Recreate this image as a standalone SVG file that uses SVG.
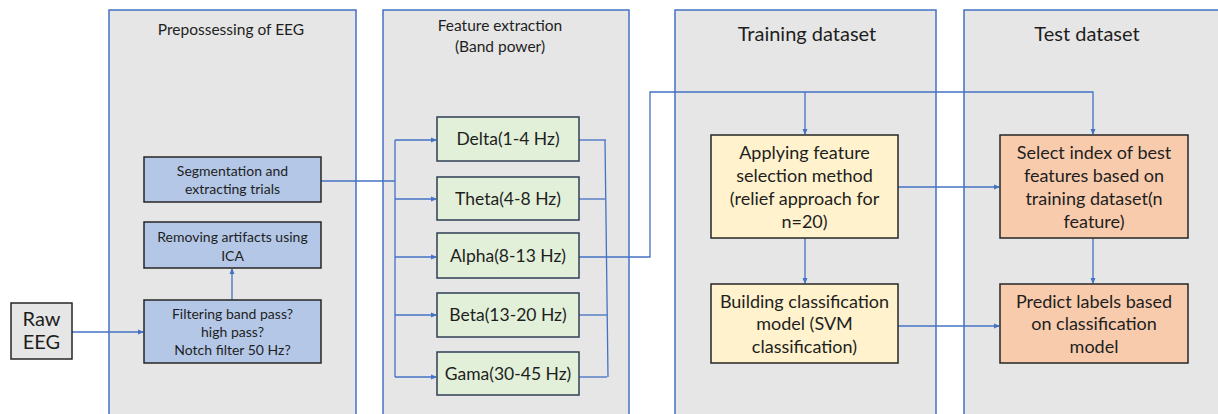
<svg xmlns="http://www.w3.org/2000/svg" width="1218" height="414" viewBox="0 0 1218 414">
<style>
.panel{fill:#e6e6e6;stroke:#4472c4;stroke-width:1.5}
.blue{fill:#b4c7e7;stroke:#262626;stroke-width:1.5}
.green{fill:#e2f0d9;stroke:#2f3f55;stroke-width:1.5}
.yellow{fill:#fff2cc;stroke:#262626;stroke-width:1.5}
.orange{fill:#f8cbad;stroke:#262626;stroke-width:1.5}
.gray{fill:#e6e6e6;stroke:#262626;stroke-width:1.5}
text{font-family:Lato,"Open Sans",sans-serif;fill:#1e1e1e;text-anchor:middle}
.t13{font-size:14px}
.t14{font-size:15.5px}
.tf{font-size:15.5px}
.t15{font-size:17.5px}
.t16{font-size:18px}
.t18{font-size:20px}
.c{fill:none;stroke:#4472c4;stroke-width:1.3}
</style>
<defs>
<marker id="ah" markerWidth="6" markerHeight="6" refX="5" refY="3" orient="auto" markerUnits="userSpaceOnUse">
<path d="M0,0.5 L6,3 L0,5.5 z" fill="#4472c4"/>
</marker>
</defs>
<rect width="1218" height="414" fill="#ffffff"/>
<g id="panel-preprocessing">
<rect class="panel" x="109" y="10" width="247" height="420"/>
<text class="t14" x="231" y="35">Prepossessing of EEG</text>
</g>
<g id="panel-feature">
<rect class="panel" x="383" y="10" width="246" height="420"/>
<text class="tf" x="500" y="31">Feature extraction</text>
<text class="tf" x="500" y="52">(Band power)</text>
</g>
<g id="panel-training">
<rect class="panel" x="675" y="10" width="261" height="420"/>
<text class="t18" x="807" y="41">Training dataset</text>
</g>
<g id="panel-test">
<rect class="panel" x="964" y="10" width="270" height="420"/>
<text class="t18" x="1087" y="41">Test dataset</text>
</g>
<g id="connectors">
<path class="c" d="M72,332 H143" marker-end="url(#ah)"/>
<path class="c" d="M232,300 V269" marker-end="url(#ah)"/>
<path class="c" d="M321,181 H395"/>
<path class="c" d="M395,140 V377"/>
<path class="c" d="M395,140 H436" marker-end="url(#ah)"/>
<path class="c" d="M395,199 H436" marker-end="url(#ah)"/>
<path class="c" d="M395,257 H436" marker-end="url(#ah)"/>
<path class="c" d="M395,315 H436" marker-end="url(#ah)"/>
<path class="c" d="M395,377 H436" marker-end="url(#ah)"/>
<path class="c" d="M579,140 H606"/>
<path class="c" d="M579,199 H606"/>
<path class="c" d="M579,315 H607"/>
<path class="c" d="M579,377 H607"/>
<path class="c" d="M605,140 L608,377"/>
<path class="c" d="M579,257 H650 V92 H1093 V134" marker-end="url(#ah)"/>
<path class="c" d="M805,92 V134" marker-end="url(#ah)"/>
<path class="c" d="M805,238 V283" marker-end="url(#ah)"/>
<path class="c" d="M1093,238 V283" marker-end="url(#ah)"/>
<path class="c" d="M898,187 H999" marker-end="url(#ah)"/>
<path class="c" d="M898,326 H999" marker-end="url(#ah)"/>
</g>
<g id="raw-eeg">
<rect class="gray" x="11" y="303" width="61" height="56"/>
<text class="t18" x="41.5" y="326">Raw</text>
<text class="t18" x="41.5" y="349">EEG</text>
</g>
<g id="segmentation">
<rect class="blue" x="144" y="157" width="177" height="45"/>
<text class="t13" x="232.5" y="176">Segmentation and</text>
<text class="t13" x="232.5" y="194">extracting trials</text>
</g>
<g id="removing-artifacts">
<rect class="blue" x="144" y="222" width="177" height="46"/>
<text class="t13" x="232.5" y="242">Removing artifacts using</text>
<text class="t13" x="232.5" y="261">ICA</text>
</g>
<g id="filtering">
<rect class="blue" x="144" y="300" width="177" height="63"/>
<text class="t13" x="232.5" y="319">Filtering band pass?</text>
<text class="t13" x="232.5" y="337">high pass?</text>
<text class="t13" x="232.5" y="355">Notch filter 50 Hz?</text>
</g>
<g id="delta">
<rect class="green" x="437" y="117" width="142" height="44"/>
<text class="t15" x="508" y="145">Delta(1-4 Hz)</text>
</g>
<g id="theta">
<rect class="green" x="437" y="177" width="142" height="43"/>
<text class="t15" x="508" y="205">Theta(4-8 Hz)</text>
</g>
<g id="alpha">
<rect class="green" x="437" y="233" width="142" height="45"/>
<text class="t15" x="508" y="262">Alpha(8-13 Hz)</text>
</g>
<g id="beta">
<rect class="green" x="437" y="293" width="142" height="44"/>
<text class="t15" x="508" y="321">Beta(13-20 Hz)</text>
</g>
<g id="gama">
<rect class="green" x="437" y="352" width="142" height="43"/>
<text class="t15" x="508" y="380">Gama(30-45 Hz)</text>
</g>
<g id="applying">
<rect class="yellow" x="711" y="135" width="187" height="103"/>
<text class="t16" x="804.5" y="159">Applying feature</text>
<text class="t16" x="804.5" y="182">selection method</text>
<text class="t16" x="804.5" y="205">(relief approach for</text>
<text class="t16" x="804.5" y="228">n=20)</text>
</g>
<g id="building">
<rect class="yellow" x="711" y="284" width="187" height="79"/>
<text class="t16" x="804.5" y="308">Building classification</text>
<text class="t16" x="804.5" y="330">model (SVM</text>
<text class="t16" x="804.5" y="353">classification)</text>
</g>
<g id="select">
<rect class="orange" x="1000" y="135" width="188" height="103"/>
<text class="t16" x="1094" y="159">Select index of best</text>
<text class="t16" x="1094" y="182">features based on</text>
<text class="t16" x="1094" y="205">training dataset(n</text>
<text class="t16" x="1094" y="228">feature)</text>
</g>
<g id="predict">
<rect class="orange" x="1000" y="284" width="188" height="79"/>
<text class="t16" x="1094" y="308">Predict labels based</text>
<text class="t16" x="1094" y="330">on classification</text>
<text class="t16" x="1094" y="353">model</text>
</g>
</svg>
